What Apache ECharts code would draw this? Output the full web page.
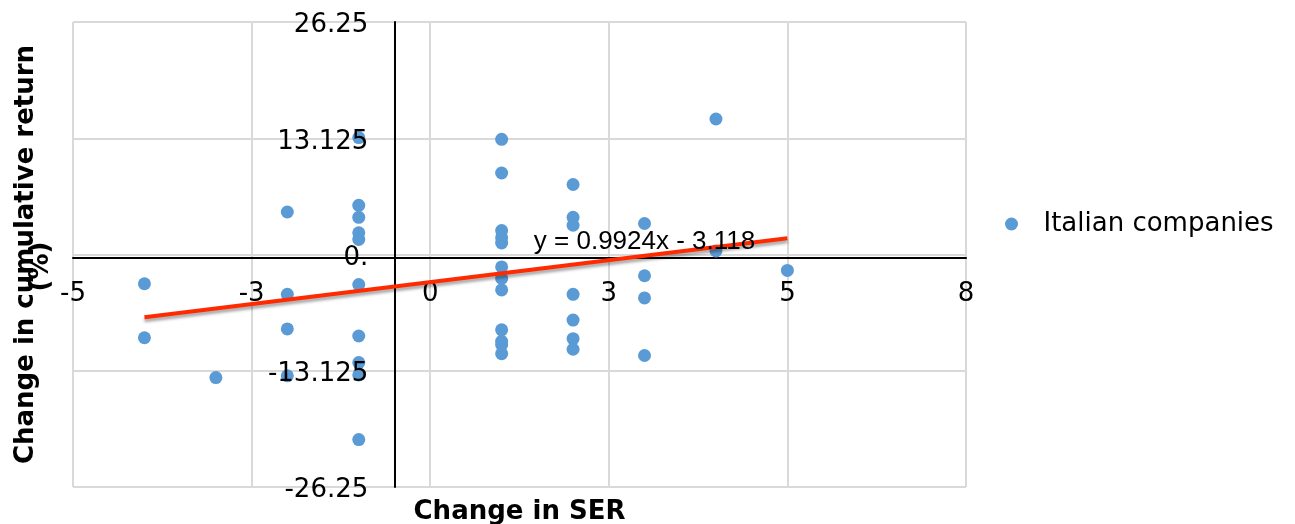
<!DOCTYPE html>
<html><head><meta charset="utf-8">
<script src="https://cdn.jsdelivr.net/npm/echarts@6/dist/echarts.min.js"></script>
<style>html,body{margin:0;padding:0;background:#fff}#c{width:1295px;height:524px}</style>
</head><body><div id="c"></div><script>
// ---- data ----
const seriesName = 'Italian companies';
const xValues = [-4, -4,
  -3,
  -2, -2, -2, -2,
  -1, -1, -1, -1, -1, -1, -1, -1, -1, -1,
  1, 1, 1, 1, 1, 1, 1, 1, 1, 1, 1, 1,
  2, 2, 2, 2, 2, 2, 2,
  3, 3, 3, 3,
  4, 4,
  5];
const yValues = [-3.3, -9.4,
  -13.9,
  4.8, -4.5, -8.4, -13.7,
  13.2, 5.55, 4.2, 2.45, 1.7, -3.4, -9.2, -12.2, -13.6, -20.9,
  13.0, 9.2, 2.7, 1.9, 1.3, -1.4, -2.7, -4.0, -8.5, -9.8, -10.2, -11.2,
  7.9, 4.2, 3.3, -4.5, -7.4, -9.5, -10.7,
  3.5, -2.4, -4.9, -11.4,
  15.3, 0.4,
  -1.8];
const trendSlope = 0.9924;
const trendIntercept = -3.118;
const trendLabel = 'y = 0.9924x - 3.118';
const trendLabelAt = [3, 1.4];
const xTickValues = [-5, -2.5, 0, 2.5, 5, 7.5];
const xTickLabels = ['-5', '-3', '0', '3', '5', '8'];
const yTickValues = [-26.25, -13.125, 0, 13.125, 26.25];
const yTickLabels = ['-26.25', '-13.125', '0.', '13.125', '26.25'];
const xTitle = 'Change in SER';
const yTitleLines = ['Change in cumulative return', '(%)'];

// ---- build ----
const points = xValues.map((x, i) => [x, yValues[i]]);
const xMin = Math.min(...xValues), xMax = Math.max(...xValues);
const trend = [[xMin, trendSlope * xMin + trendIntercept], [xMax, trendSlope * xMax + trendIntercept]];
function fmt(vals, labels, rich) {
  return v => {
    const i = vals.findIndex(t => Math.abs(t - v) < 1e-6);
    if (i < 0) return '';
    return rich ? '{v|' + labels[i] + '}' : labels[i];
  };
}
const FONT = 'DejaVu Sans';
const yBase = {
  type: 'value', min: -26.25, max: 26.25, interval: 13.125,
  position: 'left', offset: -321.3
};
const titleStyle = {fontFamily: FONT, fontSize: 26, fontWeight: 'bold', color: '#000', lineHeight: 15};
const chart = echarts.init(document.getElementById('c'), null, {renderer: 'canvas'});
chart.setOption({
  animation: false,
  backgroundColor: '#fff',
  grid: {left: 73, right: 329, top: 22, bottom: 37, containLabel: false, outerBoundsMode: 'none'},
  legend: {
    data: [seriesName], orient: 'vertical', left: 1000, top: 206,
    itemWidth: 54, itemHeight: 13, icon: 'circle',
    textStyle: {fontFamily: FONT, fontSize: 26, color: '#000'}
  },
  xAxis: {
    type: 'value', min: -5, max: 7.5, interval: 2.5,
    position: 'bottom', offset: -229.5,
    axisLine: {show: true, onZero: false, lineStyle: {color: '#000', width: 2}},
    axisTick: {show: false},
    axisLabel: {margin: 24, fontFamily: FONT, fontSize: 26, color: '#000', formatter: fmt(xTickValues, xTickLabels, false)},
    splitLine: {show: true, lineStyle: {color: '#d9d9d9', width: 2}},
    name: xTitle, nameLocation: 'middle', nameGap: 242,
    nameTextStyle: {fontFamily: FONT, fontSize: 26, fontWeight: 'bold', color: '#000'}
  },
  yAxis: [
    Object.assign({}, yBase, {
      axisLine: {show: true, onZero: false, lineStyle: {color: '#000', width: 2}},
      axisTick: {show: false},
      axisLabel: {show: false},
      splitLine: {show: true, lineStyle: {color: '#d9d9d9', width: 2}},
      name: '{a|' + yTitleLines[0] + '}\n{b|' + yTitleLines[1] + '}',
      nameLocation: 'middle', nameGap: 346, nameRotate: 90,
      nameTextStyle: Object.assign({}, titleStyle, {
        rich: {a: Object.assign({}, titleStyle), b: Object.assign({}, titleStyle, {padding: [0, 24, 0, 0]})}
      })
    }),
    Object.assign({}, yBase, {
      z: 10,
      axisLine: {show: false, onZero: false},
      axisTick: {show: false},
      splitLine: {show: false},
      axisLabel: {margin: 26, fontFamily: FONT, fontSize: 26, color: '#000', formatter: fmt(yTickValues, yTickLabels, true),
        rich: {v: {fontFamily: FONT, fontSize: 26, color: '#000', padding: [7, 0, 0, 0]}}}
    })
  ],
  series: [
    {
      name: seriesName, type: 'scatter', data: points, symbol: 'circle', symbolSize: 13,
      itemStyle: {color: '#5b9bd5', opacity: 1}, z: 2
    },
    {
      name: 'trend', type: 'line', data: trend, symbol: 'none', z: 3, silent: true,
      lineStyle: {color: '#ff2a00', width: 4, shadowColor: 'rgba(0,0,0,0.35)', shadowBlur: 3, shadowOffsetY: 3},
      markPoint: {
        symbol: 'circle', symbolSize: 0, silent: true,
        data: [{coord: trendLabelAt}],
        label: {show: true, position: 'inside', formatter: trendLabel,
          fontFamily: 'Liberation Sans', fontSize: 26, color: '#000'}
      }
    }
  ]
});
</script></body></html>
